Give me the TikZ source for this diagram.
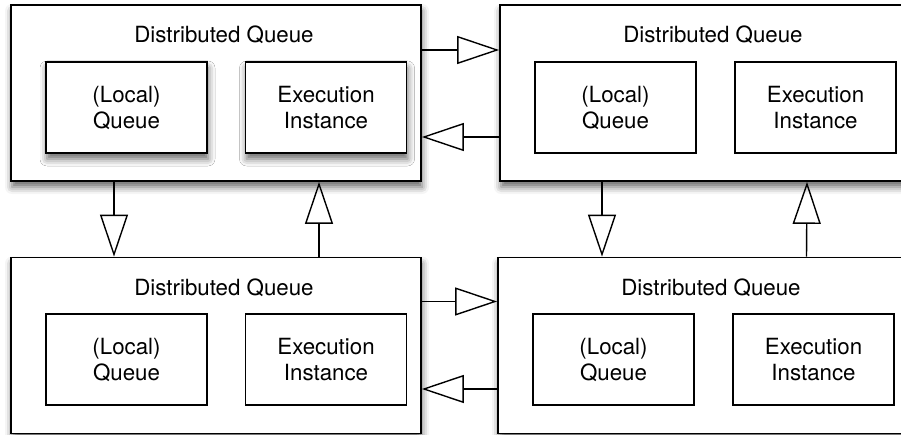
\documentclass[tikz,border=0pt]{standalone}
\usepackage{fontspec}
\setmainfont{TeX Gyre Heros}
\usetikzlibrary{arrows.meta, positioning, shadows.blur}

\begin{document}
\begin{tikzpicture}[
    x=1pt, y=-1pt,
    every node/.style={font=\fontsize{22.3}{26}\selectfont, align=center},
    queuebox/.style={draw, line width=1.7pt, fill=white, minimum width=410pt, minimum height=176pt, inner sep=0pt},
    partbox/.style={draw, line width=1.4pt, fill=white, minimum width=161pt, minimum height=91pt, inner sep=0pt},
    softshadow/.style={blur shadow={shadow xshift=1pt, shadow yshift=-6pt, shadow blur radius=7pt, shadow opacity=60}},
    arrow/.style={-{Triangle[open, length=42pt, width=28pt, line width=1.4pt]}, line width=1.4pt}
]
\useasboundingbox (0,0) rectangle (901,435);

% Outer boxes
\node[queuebox, softshadow] (dqa) at (216,93) {};
\node[queuebox, softshadow] (dqb) at (705,93) {};
\node[queuebox, softshadow] (dqc) at (216,345.5) {};
\node[queuebox, softshadow] (dqd) at (703,345.5) {};

% Titles
\node[anchor=base] (ttla) at ([xshift=8pt, yshift=-38.5pt]dqa.north) {Distributed Queue};
\node[anchor=base] (ttlb) at ([xshift=8pt, yshift=-38.5pt]dqb.north) {Distributed Queue};
\node[anchor=base] (ttlc) at ([xshift=8pt, yshift=-38.5pt]dqc.north) {Distributed Queue};
\node[anchor=base] (ttld) at ([xshift=8pt, yshift=-38.5pt]dqd.north) {Distributed Queue};

% Inner parts
\node[partbox, softshadow] (lqa) at (126.5,107.5) {(Local)\\Queue};
\node[partbox, softshadow] (exa) at (326,107.5) {Execution\\Instance};
\node[partbox] (lqb) at (615.5,107.5) {(Local)\\Queue};
\node[partbox] (exb) at (815.5,107.5) {Execution\\Instance};
\node[partbox] (lqc) at (126.5,359.5) {(Local)\\Queue};
\node[partbox] (exc) at (326,359.5) {Execution\\Instance};
\node[partbox] (lqd) at (613.5,359.5) {(Local)\\Queue};
\node[partbox] (exd) at (813.5,359.5) {Execution\\Instance};

% Edges
\draw[arrow] ([yshift=43pt]dqa.east) -- ([yshift=43pt]dqb.west);
\draw[arrow] ([yshift=-44pt]dqb.west) -- ([yshift=-44pt]dqa.east);
\draw[arrow] ([yshift=44pt]dqc.east) -- ([yshift=44pt]dqd.west);
\draw[arrow] ([yshift=-43.5pt]dqd.west) -- ([yshift=-43.5pt]dqc.east);
\draw[arrow] ([xshift=-102pt]dqa.south) -- ([xshift=-102pt]dqc.north);
\draw[arrow] ([xshift=103pt]dqc.north) -- ([xshift=103pt]dqa.south);
\draw[arrow] ([xshift=-103pt]dqb.south) -- ([xshift=-101pt]dqd.north);
\draw[arrow] ([xshift=103.5pt]dqd.north) -- ([xshift=102pt]dqb.south);

\end{tikzpicture}
\end{document}
